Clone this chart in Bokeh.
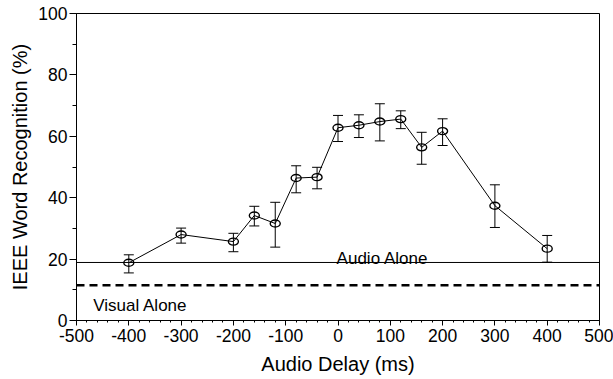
from bokeh.plotting import figure
from bokeh.models import (Range1d, SingleIntervalTicker, Whisker, TeeHead, Span,
                          Label, ColumnDataSource, CustomJSTickFormatter)
from bokeh.embed import file_html
from bokeh.resources import INLINE

# Data
delay_ms = [-400, -300, -200, -160, -120, -80, -40, 0, 40, 80, 120, 160, 200, 300, 400]
recognition = [18.8, 28.0, 25.7, 34.2, 31.6, 46.4, 46.7, 62.8, 63.6, 64.8, 65.6, 56.4, 61.7, 37.4, 23.4]
err_upper = [21.4, 30.1, 28.4, 37.2, 38.5, 50.4, 49.9, 66.8, 67.0, 70.6, 68.3, 61.3, 65.7, 44.2, 27.7]
err_lower = [15.5, 25.2, 22.4, 30.8, 23.9, 41.6, 42.9, 58.3, 59.6, 58.5, 62.5, 50.9, 57.0, 30.3, 19.0]
audio_alone = 18.9
visual_alone = 11.5

FONT = "Liberation Sans"

src = ColumnDataSource(dict(x=delay_ms, y=recognition, upper=err_upper, lower=err_lower))

p = figure(width=613, height=379, output_backend="svg", toolbar_location=None,
           x_range=Range1d(-500, 500), y_range=Range1d(0, 100),
           min_border_left=76, min_border_right=14, min_border_top=13, min_border_bottom=59)
p.background_fill_color = "white"
p.border_fill_color = "white"
p.outline_line_color = "black"
p.outline_line_width = 1
p.xgrid.visible = False
p.ygrid.visible = False

p.xaxis.ticker = SingleIntervalTicker(interval=100, num_minor_ticks=5)
p.yaxis.ticker = SingleIntervalTicker(interval=20, num_minor_ticks=2)
fmt = CustomJSTickFormatter(code="return String(Math.round(tick));")
p.xaxis.formatter = fmt
p.yaxis.formatter = CustomJSTickFormatter(code="return String(Math.round(tick));")

for ax in (p.xaxis[0], p.yaxis[0]):
    ax.axis_line_color = "black"
    ax.major_tick_line_color = "black"
    ax.minor_tick_line_color = "black"
    ax.major_tick_in = 0
    ax.minor_tick_in = 0
    ax.major_label_text_font = FONT
    ax.major_label_text_font_size = "17.5px"
    ax.major_label_text_color = "black"
    ax.axis_label_text_font = FONT
    ax.axis_label_text_font_style = "normal"
    ax.axis_label_text_color = "black"
    ax.axis_label_text_font_size = "20px"

p.xaxis.major_tick_out = 5
p.xaxis.minor_tick_out = 2
p.xaxis.major_label_standoff = 3
p.xaxis.axis_label_standoff = 8
p.xaxis.axis_label = "Audio Delay (ms)"

p.yaxis.major_tick_out = 7
p.yaxis.minor_tick_out = 4
p.yaxis.major_label_standoff = 2
p.yaxis.axis_label_standoff = 4
p.yaxis.axis_label = "IEEE Word Recognition (%)"

# Reference lines
p.add_layout(Span(location=audio_alone, dimension="width", line_color="black", line_width=1))
p.add_layout(Span(location=visual_alone, dimension="width", line_color="black",
                  line_width=2.5, line_dash="8 5"))

p.add_layout(Label(x=85, y=audio_alone, y_offset=4, text="Audio Alone", text_align="center",
                   text_baseline="alphabetic", text_font=FONT, text_font_size="17px",
                   text_color="black"))
p.add_layout(Label(x=-468, y=visual_alone, y_offset=-20, text="Visual Alone", text_align="left",
                   text_baseline="alphabetic", text_font=FONT, text_font_size="17px",
                   text_color="black"))

# Data line, error bars, markers
p.line("x", "y", source=src, line_color="black", line_width=1)
p.add_layout(Whisker(base="x", upper="upper", lower="lower", source=src, dimension="height",
                     line_color="black", line_width=1,
                     upper_head=TeeHead(size=10, line_color="black", line_width=1),
                     lower_head=TeeHead(size=10, line_color="black", line_width=1)))
p.ellipse("x", "y", source=src, width=10, height=7, width_units="screen", height_units="screen",
          fill_color=None, line_color="black", line_width=1.4)

open("out.html", "w").write(file_html(p, INLINE))
